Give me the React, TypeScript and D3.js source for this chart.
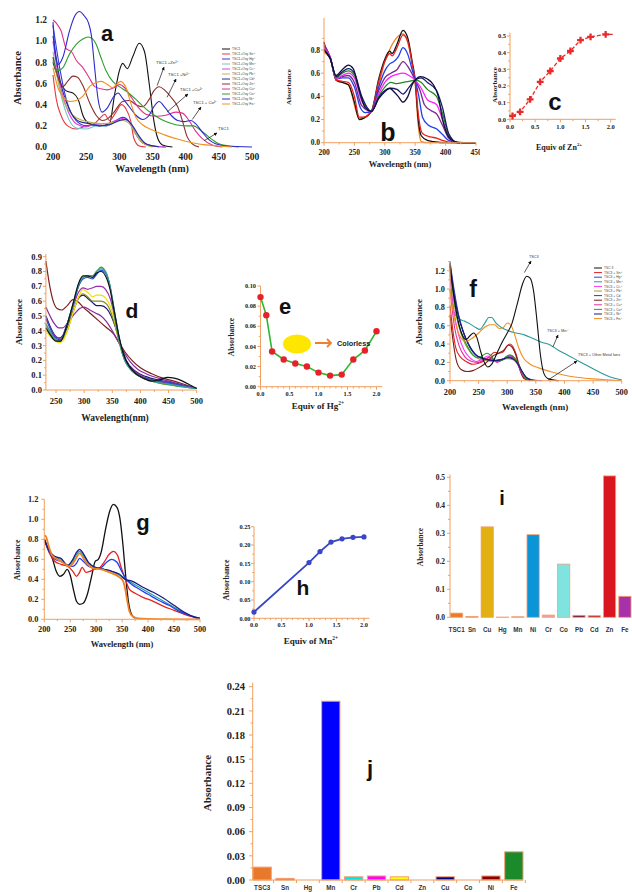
import React from "react";
import * as d3 from "d3";

type Pt = [number, number];

const serif = "'Liberation Serif', 'Times New Roman', serif";
const sans = "'Liberation Sans', Arial, sans-serif";
const AXC = "#f0a060";

// ---------- panel a : TSC1 + metal ions ----------
const aTSC1: Pt[] = [[200, 0.8], [210, 0.62], [220, 0.53], [230, 0.51], [238, 0.45], [245, 0.3], [255, 0.22], [270, 0.2], [285, 0.22], [293, 0.5], [300, 0.72], [305, 0.79], [312, 0.74], [320, 0.85], [330, 0.98], [338, 0.9], [345, 0.6], [352, 0.25], [358, 0.08], [365, 0.02], [380, 0]];
const aSn: Pt[] = [[200, 0.68], [205, 0.45], [212, 0.3], [222, 0.2], [235, 0.17], [250, 0.2], [262, 0.22], [272, 0.28], [278, 0.31], [285, 0.25], [295, 0.33], [303, 0.4], [310, 0.36], [317, 0.25], [322, 0.08], [330, 0.01], [340, 0]];
const aHg: Pt[] = [[200, 1.15], [210, 0.75], [220, 0.45], [235, 0.25], [250, 0.2], [265, 0.21], [280, 0.2], [295, 0.25], [305, 0.28], [315, 0.24], [325, 0.12], [335, 0.04], [350, 0.01], [370, 0]];
const aMn: Pt[] = [[200, 0.9], [210, 0.55], [220, 0.32], [235, 0.18], [250, 0.17], [265, 0.2], [280, 0.2], [295, 0.24], [305, 0.26], [315, 0.24], [325, 0.14], [335, 0.05], [350, 0.01], [370, 0]];
const aCr: Pt[] = [[200, 1.0], [210, 0.6], [220, 0.38], [235, 0.22], [250, 0.19], [265, 0.22], [280, 0.22], [295, 0.25], [305, 0.27], [315, 0.24], [325, 0.12], [335, 0.04], [350, 0.01], [370, 0]];
const aPb: Pt[] = [[200, 0.85], [215, 0.45], [230, 0.3], [245, 0.25], [260, 0.23], [275, 0.22], [290, 0.23], [305, 0.25], [315, 0.22], [325, 0.12], [335, 0.04], [350, 0]];
const aCd: Pt[] = [[200, 1.05], [210, 0.65], [225, 0.35], [240, 0.24], [255, 0.22], [270, 0.2], [285, 0.21], [300, 0.25], [310, 0.26], [320, 0.2], [330, 0.1], [340, 0.03], [360, 0]];
const aZn: Pt[] = [[200, 0.85], [208, 0.65], [215, 0.57], [222, 0.62], [230, 0.67], [237, 0.66], [245, 0.58], [255, 0.42], [265, 0.3], [275, 0.25], [283, 0.27], [292, 0.33], [305, 0.43], [315, 0.44], [325, 0.4], [335, 0.38], [345, 0.45], [352, 0.53], [360, 0.57], [368, 0.54], [378, 0.47], [388, 0.38], [395, 0.25], [402, 0.1], [410, 0.03], [420, 0]];
const aCu: Pt[] = [[200, 1.2], [205, 1.17], [212, 1.1], [220, 0.93], [228, 0.9], [235, 0.82], [245, 0.75], [255, 0.65], [263, 0.57], [272, 0.55], [282, 0.54], [292, 0.56], [300, 0.59], [308, 0.56], [318, 0.47], [328, 0.38], [340, 0.31], [355, 0.29], [370, 0.3], [385, 0.33], [395, 0.32], [405, 0.25], [415, 0.15], [425, 0.08], [440, 0.02], [455, 0]];
const aCo: Pt[] = [[200, 0.82], [207, 0.72], [215, 0.75], [225, 0.88], [235, 0.97], [245, 1.02], [253, 1.04], [260, 1.02], [265, 0.97], [272, 0.85], [280, 0.72], [290, 0.62], [300, 0.57], [312, 0.52], [325, 0.45], [340, 0.36], [355, 0.29], [370, 0.24], [385, 0.21], [400, 0.2], [412, 0.2], [420, 0.17], [430, 0.12], [440, 0.07], [450, 0.03], [465, 0.01], [480, 0]];
const aNi: Pt[] = [[200, 1.18], [204, 0.85], [208, 0.78], [215, 0.85], [225, 1.1], [233, 1.24], [240, 1.28], [247, 1.24], [253, 1.18], [258, 1.05], [262, 0.8], [268, 0.45], [274, 0.33], [282, 0.37], [292, 0.48], [298, 0.51], [305, 0.46], [315, 0.38], [325, 0.3], [335, 0.26], [345, 0.3], [352, 0.38], [360, 0.43], [368, 0.38], [378, 0.3], [388, 0.25], [398, 0.24], [408, 0.25], [415, 0.22], [425, 0.14], [435, 0.07], [445, 0.03], [460, 0.01], [500, 0]];
const aFe: Pt[] = [[200, 0.75], [208, 0.55], [215, 0.48], [225, 0.43], [235, 0.44], [245, 0.48], [255, 0.57], [265, 0.61], [273, 0.62], [282, 0.59], [290, 0.56], [297, 0.6], [302, 0.62], [310, 0.56], [318, 0.4], [325, 0.28], [335, 0.21], [350, 0.16], [370, 0.11], [390, 0.07], [410, 0.04], [430, 0.02], [450, 0.01], [470, 0]];
const aNames = ["TSC1", "TSC1+Oxy Sn²⁺", "TSC1+Oxy Hg²⁺", "TSC1+Oxy Mn²⁺", "TSC1+Oxy Cr³⁺", "TSC1+Oxy Pb²⁺", "TSC1+Oxy Cd²⁺", "TSC1+Oxy Zn²⁺", "TSC1+Oxy Cu²⁺", "TSC1+Oxy Co²⁺", "TSC1+Oxy Ni²⁺", "TSC1+Oxy Fe³⁺"];
const aColors = ["#111111", "#e83a3a", "#3838e0", "#70c4c4", "#e040e0", "#b8b850", "#2a2a9a", "#8b2e2e", "#e0308f", "#2f9e2f", "#2b2bd0", "#f0901a"];
const aData = [aTSC1, aSn, aHg, aMn, aCr, aPb, aCd, aZn, aCu, aCo, aNi, aFe];
const aNotes = ["TSC1 +Zn²⁺", "TSC1 +Ni²⁺", "TSC1 +Cu²⁺", "TSC1 + Co²⁺", "TSC1"];
const aNoteNm: Pt[] = [[357, 0.58], [372, 0.47], [372, 0.33], [410, 0.26], [428, 0.06]];

// ---------- panel b : Zn titration ----------
const bBlack: Pt[] = [[200, 0.87], [205, 0.77], [210, 0.74], [220, 0.54], [230, 0.52], [240, 0.5], [250, 0.35], [258, 0.2], [265, 0.21], [278, 0.27], [290, 0.55], [300, 0.72], [308, 0.79], [312, 0.77], [320, 0.85], [330, 0.97], [338, 0.9], [345, 0.7], [350, 0.54], [355, 0.2], [360, 0.06], [370, 0.02], [380, 0.01], [400, 0], [450, 0]];
const bRed: Pt[] = [[200, 0.85], [210, 0.74], [220, 0.54], [230, 0.53], [240, 0.52], [250, 0.4], [258, 0.22], [265, 0.22], [278, 0.27], [290, 0.53], [300, 0.7], [308, 0.77], [312, 0.75], [320, 0.82], [330, 0.93], [338, 0.87], [345, 0.68], [350, 0.54], [355, 0.25], [362, 0.08], [375, 0.05], [385, 0.04], [395, 0.02], [410, 0], [450, 0]];
const bBlue: Pt[] = [[200, 0.84], [210, 0.74], [220, 0.55], [230, 0.56], [240, 0.56], [250, 0.48], [260, 0.3], [268, 0.26], [278, 0.27], [290, 0.48], [300, 0.62], [308, 0.68], [315, 0.7], [322, 0.74], [330, 0.82], [338, 0.76], [345, 0.63], [350, 0.54], [356, 0.4], [362, 0.22], [372, 0.15], [385, 0.12], [395, 0.07], [405, 0.02], [420, 0], [450, 0]];
const bPurple: Pt[] = [[200, 0.83], [210, 0.74], [220, 0.55], [230, 0.57], [240, 0.58], [250, 0.52], [262, 0.32], [278, 0.27], [290, 0.45], [300, 0.56], [310, 0.6], [320, 0.63], [330, 0.7], [340, 0.64], [350, 0.54], [358, 0.45], [365, 0.33], [375, 0.28], [385, 0.25], [395, 0.15], [405, 0.04], [420, 0], [450, 0]];
const bMagenta: Pt[] = [[200, 0.82], [210, 0.74], [220, 0.55], [230, 0.58], [240, 0.6], [250, 0.56], [262, 0.36], [278, 0.27], [290, 0.42], [300, 0.52], [310, 0.57], [320, 0.59], [330, 0.6], [340, 0.58], [350, 0.54], [360, 0.47], [370, 0.37], [385, 0.33], [395, 0.2], [405, 0.06], [420, 0], [450, 0]];
const bGreen: Pt[] = [[200, 0.81], [210, 0.73], [220, 0.56], [230, 0.6], [240, 0.62], [250, 0.58], [262, 0.38], [278, 0.27], [290, 0.4], [300, 0.48], [310, 0.52], [320, 0.51], [330, 0.52], [340, 0.53], [350, 0.54], [360, 0.52], [370, 0.46], [385, 0.4], [395, 0.25], [405, 0.07], [420, 0], [450, 0]];
const bNavy: Pt[] = [[200, 0.8], [210, 0.73], [220, 0.57], [230, 0.61], [240, 0.64], [250, 0.6], [262, 0.4], [278, 0.27], [290, 0.39], [300, 0.45], [310, 0.47], [320, 0.46], [330, 0.42], [340, 0.48], [350, 0.54], [360, 0.56], [370, 0.52], [385, 0.45], [395, 0.3], [405, 0.08], [420, 0], [450, 0]];
const bFinal: Pt[] = [[200, 0.8], [210, 0.73], [220, 0.58], [230, 0.63], [240, 0.67], [248, 0.64], [258, 0.45], [268, 0.3], [278, 0.27], [290, 0.38], [300, 0.44], [308, 0.47], [315, 0.44], [322, 0.4], [330, 0.35], [338, 0.4], [345, 0.5], [350, 0.54], [358, 0.57], [370, 0.55], [380, 0.5], [388, 0.4], [395, 0.2], [405, 0.05], [415, 0.01], [430, 0], [450, 0]];
const bOrange: Pt[] = [[200, 0.78], [210, 0.73], [220, 0.54], [240, 0.5], [258, 0.21], [278, 0.27], [300, 0.7], [330, 0.94], [345, 0.68], [350, 0.5], [355, 0.15], [360, 0.01], [370, 0], [450, 0]];
const bColors = ["#f08020", "#111111", "#e82020", "#2040f0", "#7a2a8e", "#ff20ff", "#208a20", "#1a1a70", "#101040"];
const bData = [bOrange, bBlack, bRed, bBlue, bPurple, bMagenta, bGreen, bNavy, bFinal];

// ---------- panel c : Zn equivalents ----------
const cEquiv = [0.05, 0.2, 0.4, 0.6, 0.8, 1.0, 1.2, 1.4, 1.6, 1.9];
const cAbs = [0.02, 0.045, 0.12, 0.225, 0.29, 0.365, 0.41, 0.475, 0.495, 0.51];
const cTail: Pt = [2.05, 0.51];

// ---------- panel d : Hg titration ----------
const dBrown: Pt[] = [[232, 0.87], [238, 0.72], [245, 0.6], [252, 0.55], [260, 0.54], [270, 0.57], [280, 0.61], [288, 0.6], [298, 0.56], [310, 0.52], [325, 0.47], [340, 0.42], [352, 0.38], [362, 0.32], [372, 0.26], [385, 0.2], [400, 0.15], [420, 0.11], [440, 0.08], [460, 0.06], [480, 0.035], [500, 0.01]];
const dBlack: Pt[] = [[232, 0.42], [240, 0.37], [250, 0.33], [258, 0.33], [268, 0.42], [280, 0.58], [290, 0.72], [298, 0.77], [306, 0.77], [315, 0.76], [322, 0.79], [330, 0.8], [338, 0.77], [346, 0.68], [354, 0.52], [362, 0.36], [370, 0.24], [380, 0.16], [392, 0.11], [405, 0.08], [420, 0.06], [435, 0.07], [448, 0.085], [460, 0.08], [475, 0.06], [490, 0.03], [500, 0.01]];
const dTeal: Pt[] = [[232, 0.45], [240, 0.39], [250, 0.34], [258, 0.33], [268, 0.42], [280, 0.58], [290, 0.71], [298, 0.76], [306, 0.77], [315, 0.77], [322, 0.8], [330, 0.82], [338, 0.8], [346, 0.7], [354, 0.52], [362, 0.35], [370, 0.22], [382, 0.14], [395, 0.1], [420, 0.06], [450, 0.04], [480, 0.02], [500, 0.01]];
const dBlue: Pt[] = [[232, 0.5], [240, 0.41], [250, 0.35], [258, 0.34], [268, 0.43], [280, 0.57], [290, 0.7], [298, 0.75], [306, 0.76], [315, 0.75], [322, 0.78], [330, 0.81], [338, 0.79], [346, 0.7], [354, 0.53], [362, 0.36], [370, 0.23], [382, 0.15], [395, 0.1], [420, 0.07], [450, 0.05], [480, 0.025], [500, 0.01]];
const dGreen: Pt[] = [[232, 0.44], [250, 0.34], [258, 0.33], [268, 0.42], [280, 0.57], [290, 0.7], [298, 0.76], [306, 0.77], [315, 0.77], [322, 0.8], [330, 0.83], [338, 0.8], [346, 0.7], [354, 0.5], [362, 0.33], [372, 0.2], [385, 0.13], [400, 0.09], [430, 0.05], [460, 0.03], [500, 0.01]];
const dMagenta: Pt[] = [[232, 0.48], [250, 0.36], [258, 0.35], [268, 0.42], [280, 0.56], [290, 0.66], [298, 0.69], [306, 0.68], [315, 0.69], [322, 0.7], [330, 0.7], [338, 0.68], [346, 0.62], [354, 0.5], [362, 0.34], [372, 0.21], [385, 0.14], [400, 0.1], [430, 0.06], [460, 0.04], [500, 0.01]];
const dYellow: Pt[] = [[232, 0.4], [245, 0.34], [255, 0.32], [262, 0.33], [270, 0.4], [280, 0.52], [290, 0.63], [298, 0.68], [306, 0.66], [315, 0.63], [322, 0.64], [330, 0.64], [338, 0.62], [346, 0.57], [354, 0.47], [362, 0.33], [372, 0.2], [385, 0.13], [400, 0.09], [430, 0.05], [460, 0.03], [500, 0.01]];
const dOlive: Pt[] = [[232, 0.42], [255, 0.33], [270, 0.4], [280, 0.52], [290, 0.62], [298, 0.65], [306, 0.63], [315, 0.6], [322, 0.6], [330, 0.6], [340, 0.58], [348, 0.52], [356, 0.42], [364, 0.3], [375, 0.18], [390, 0.12], [410, 0.08], [440, 0.05], [470, 0.03], [500, 0.01]];
const dNavy: Pt[] = [[232, 0.5], [255, 0.35], [270, 0.42], [280, 0.53], [290, 0.62], [298, 0.64], [306, 0.62], [315, 0.59], [322, 0.57], [330, 0.57], [340, 0.55], [348, 0.5], [356, 0.42], [364, 0.32], [375, 0.2], [390, 0.13], [410, 0.09], [440, 0.06], [470, 0.035], [500, 0.01]];
const dPurple: Pt[] = [[232, 0.56], [245, 0.46], [255, 0.42], [262, 0.42], [272, 0.46], [282, 0.51], [292, 0.55], [300, 0.56], [310, 0.54], [320, 0.52], [330, 0.5], [340, 0.46], [350, 0.4], [360, 0.33], [370, 0.26], [382, 0.19], [395, 0.14], [410, 0.11], [440, 0.07], [470, 0.04], [500, 0.01]];
const dColors = ["#7a1f1f", "#8a2aa0", "#1a1a70", "#8a8a20", "#f0e000", "#9a2ab0", "#3a9a3a", "#3050d0", "#3aa0a0", "#111111"];
const dData = [dBrown, dPurple, dNavy, dOlive, dYellow, dMagenta, dGreen, dBlue, dTeal, dBlack];

// ---------- panel e : Hg equivalents ----------
const eEquiv = [0.0, 0.1, 0.2, 0.4, 0.6, 0.8, 1.0, 1.2, 1.4, 1.6, 1.8, 2.0];
const eAbs = [0.089, 0.071, 0.035, 0.027, 0.023, 0.02, 0.014, 0.011, 0.012, 0.027, 0.036, 0.055];

// ---------- panel f : TSC3 + metal ions ----------
const fTSC3: Pt[] = [[200, 1.25], [205, 1.0], [212, 0.72], [220, 0.52], [228, 0.45], [235, 0.49], [241, 0.52], [247, 0.47], [253, 0.33], [260, 0.2], [266, 0.15], [273, 0.18], [282, 0.3], [292, 0.43], [300, 0.52], [308, 0.62], [318, 0.85], [327, 1.06], [334, 1.14], [340, 1.12], [346, 0.98], [352, 0.65], [358, 0.28], [364, 0.08], [372, 0.02], [390, 0]];
const fSn: Pt[] = [[200, 0.82], [205, 0.55], [210, 0.36], [218, 0.26], [228, 0.21], [240, 0.18], [250, 0.19], [260, 0.22], [270, 0.27], [278, 0.31], [284, 0.3], [292, 0.31], [300, 0.38], [305, 0.4], [310, 0.37], [316, 0.28], [322, 0.14], [330, 0.03], [340, 0]];
const fHg: Pt[] = [[200, 1.28], [206, 1.0], [213, 0.76], [222, 0.55], [232, 0.4], [242, 0.3], [252, 0.25], [262, 0.23], [275, 0.22], [288, 0.23], [300, 0.25], [308, 0.25], [316, 0.21], [324, 0.12], [332, 0.04], [342, 0.01], [360, 0]];
const fMn: Pt[] = [[200, 1.25], [203, 0.95], [207, 0.75], [215, 0.68], [225, 0.65], [235, 0.62], [245, 0.58], [252, 0.56], [260, 0.62], [268, 0.69], [273, 0.69], [280, 0.63], [290, 0.58], [300, 0.55], [315, 0.52], [330, 0.5], [345, 0.46], [360, 0.42], [375, 0.39], [390, 0.33], [405, 0.28], [420, 0.23], [435, 0.18], [450, 0.13], [465, 0.08], [480, 0.04], [495, 0.015], [500, 0.01]];
const fCr: Pt[] = [[200, 1.15], [207, 0.75], [215, 0.5], [225, 0.33], [235, 0.25], [247, 0.21], [258, 0.24], [266, 0.27], [275, 0.23], [285, 0.21], [297, 0.25], [305, 0.27], [313, 0.24], [320, 0.16], [328, 0.06], [340, 0]];
const fPb: Pt[] = [[200, 1.2], [207, 0.85], [215, 0.6], [225, 0.42], [237, 0.3], [250, 0.24], [262, 0.22], [275, 0.21], [288, 0.22], [300, 0.24], [310, 0.23], [318, 0.18], [326, 0.09], [335, 0.02], [350, 0]];
const fCd: Pt[] = [[200, 1.3], [207, 1.0], [215, 0.72], [225, 0.5], [235, 0.36], [245, 0.28], [255, 0.25], [268, 0.23], [280, 0.22], [292, 0.23], [302, 0.26], [310, 0.25], [318, 0.2], [326, 0.1], [335, 0.03], [350, 0]];
const fZn: Pt[] = [[200, 0.72], [205, 0.45], [212, 0.2], [220, 0.12], [230, 0.1], [240, 0.11], [250, 0.14], [262, 0.19], [275, 0.27], [285, 0.3], [295, 0.34], [302, 0.39], [308, 0.37], [315, 0.28], [322, 0.12], [330, 0.02], [340, 0]];
const fCu: Pt[] = [[200, 1.0], [208, 0.58], [216, 0.38], [226, 0.26], [238, 0.21], [250, 0.2], [262, 0.24], [272, 0.25], [282, 0.2], [294, 0.24], [304, 0.28], [312, 0.25], [320, 0.16], [328, 0.05], [340, 0]];
const fCo: Pt[] = [[200, 1.28], [206, 0.95], [212, 0.7], [220, 0.52], [230, 0.38], [240, 0.28], [250, 0.25], [258, 0.28], [265, 0.3], [272, 0.27], [280, 0.21], [290, 0.22], [300, 0.27], [306, 0.28], [313, 0.25], [320, 0.18], [328, 0.07], [338, 0.01], [350, 0]];
const fNi: Pt[] = [[200, 1.27], [206, 0.98], [214, 0.72], [224, 0.52], [234, 0.38], [244, 0.29], [254, 0.25], [266, 0.23], [278, 0.22], [290, 0.23], [301, 0.25], [309, 0.24], [317, 0.2], [325, 0.11], [334, 0.03], [345, 0]];
const fFe: Pt[] = [[200, 1.0], [205, 0.78], [212, 0.57], [220, 0.46], [228, 0.43], [238, 0.46], [250, 0.52], [260, 0.58], [270, 0.61], [278, 0.61], [286, 0.57], [293, 0.58], [300, 0.63], [307, 0.6], [313, 0.5], [320, 0.36], [328, 0.25], [340, 0.18], [355, 0.14], [375, 0.1], [400, 0.06], [425, 0.035], [450, 0.02], [475, 0.01], [500, 0]];
const fNames = ["TSC 3", "TSC3 + Sn²⁺", "TSC3 + Hg²⁺", "TSC3 + Mn²⁺", "TSC3 + Cr³⁺", "TSC3 + Pb²⁺", "TSC3 + Cd", "TSC3 + Zn²⁺", "TSC3 + Cu²⁺", "TSC3 + Co²⁺", "TSC3 + Ni²⁺", "TSC3 + Fe³⁺"];
const fColors = ["#111111", "#e02020", "#3040e0", "#2a9a9a", "#ff30ff", "#a0a030", "#3a3ab0", "#7a1a1a", "#e0309a", "#20a020", "#1a1a80", "#f09020"];
const fData = [fTSC3, fSn, fHg, fMn, fCr, fPb, fCd, fZn, fCu, fCo, fNi, fFe];
const fNotes = ["TSC3", "TSC3 + Mn²⁺", "TSC3 + Other Metal Ions"];

// ---------- panel g : Mn titration ----------
const gBlack: Pt[] = [[200, 0.8], [208, 0.7], [216, 0.6], [223, 0.48], [230, 0.43], [237, 0.45], [244, 0.5], [250, 0.44], [256, 0.3], [262, 0.18], [268, 0.15], [275, 0.16], [283, 0.25], [292, 0.45], [298, 0.58], [304, 0.6], [310, 0.68], [318, 0.9], [326, 1.08], [333, 1.15], [340, 1.12], [346, 1.0], [352, 0.72], [357, 0.42], [362, 0.18], [368, 0.05], [375, 0.01]];
const gRed: Pt[] = [[200, 0.8], [210, 0.66], [220, 0.58], [232, 0.55], [245, 0.53], [255, 0.48], [262, 0.43], [268, 0.47], [273, 0.52], [280, 0.47], [288, 0.48], [296, 0.5], [305, 0.51], [315, 0.57], [325, 0.65], [333, 0.68], [341, 0.64], [348, 0.52], [356, 0.4], [364, 0.3], [375, 0.26], [390, 0.22], [410, 0.18], [430, 0.13], [450, 0.09], [470, 0.05], [490, 0.02], [500, 0.01]];
const gBlue: Pt[] = [[200, 0.8], [210, 0.67], [220, 0.6], [232, 0.58], [245, 0.54], [255, 0.53], [262, 0.56], [268, 0.61], [275, 0.58], [285, 0.53], [298, 0.51], [310, 0.52], [320, 0.57], [330, 0.6], [340, 0.57], [350, 0.47], [358, 0.4], [368, 0.35], [380, 0.31], [400, 0.25], [420, 0.19], [440, 0.14], [460, 0.08], [480, 0.04], [500, 0.01]];
const gTeal: Pt[] = [[200, 0.8], [210, 0.67], [220, 0.62], [232, 0.6], [245, 0.54], [255, 0.58], [262, 0.65], [268, 0.68], [276, 0.63], [285, 0.56], [298, 0.52], [315, 0.5], [330, 0.48], [345, 0.44], [356, 0.4], [370, 0.36], [390, 0.3], [410, 0.24], [430, 0.18], [450, 0.12], [470, 0.06], [490, 0.02], [500, 0.01]];
const gNavy: Pt[] = [[200, 0.8], [210, 0.68], [220, 0.63], [232, 0.61], [245, 0.54], [255, 0.6], [262, 0.67], [268, 0.7], [276, 0.65], [285, 0.57], [298, 0.52], [315, 0.5], [330, 0.48], [345, 0.45], [356, 0.4], [370, 0.38], [390, 0.32], [410, 0.27], [430, 0.21], [450, 0.14], [470, 0.07], [490, 0.02], [500, 0.01]];
const gOrange: Pt[] = [[200, 0.84], [203, 0.83], [208, 0.74], [215, 0.64], [225, 0.6], [235, 0.57], [248, 0.53], [258, 0.58], [268, 0.66], [280, 0.57], [295, 0.51], [310, 0.5], [330, 0.46], [345, 0.42], [352, 0.38], [356, 0.3], [360, 0.18], [364, 0.08], [370, 0.03], [380, 0.01], [400, 0.005], [500, 0]];
const gColors = ["#111111", "#2aa0a0", "#e82020", "#2040f0", "#1a1a80", "#f08020"];
const gData = [gBlack, gTeal, gRed, gBlue, gNavy, gOrange];

// ---------- panel h : Mn equivalents ----------
const hEquiv = [0.0, 1.0, 1.2, 1.4, 1.6, 1.8, 2.0];
const hAbs = [0.017, 0.152, 0.182, 0.208, 0.217, 0.221, 0.222];

// ---------- panel i : TSC1 selectivity ----------
const iIons = ["TSC1", "Sn", "Cu", "Hg", "Mn", "Ni", "Cr", "Co", "Pb", "Cd", "Zn", "Fe"];
const iAbs = [0.015, 0.003, 0.323, 0.001, 0.002, 0.295, 0.008, 0.19, 0.007, 0.006, 0.505, 0.075];
const iColors = ["#ea7a2a", "#e05a2a", "#e2b012", "#e05a2a", "#e05a2a", "#0a95d9", "#f0a0a0", "#7fe3e0", "#7a1f3a", "#c0392b", "#d9161f", "#a830a8"];

// ---------- panel j : TSC3 selectivity ----------
const jIons = ["TSC3", "Sn", "Hg", "Mn", "Cr", "Pb", "Cd", "Zn", "Cu", "Co", "Ni", "Fe"];
const jAbs = [0.016, 0.002, 0, 0.222, 0.004, 0.005, 0.004, 0, 0.004, 0, 0.005, 0.035];
const jColors = ["#e8782a", "#e05020", "#cccccc", "#0000ff", "#00e5e5", "#ff00ff", "#ffff00", "#cccccc", "#000080", "#cccccc", "#8b0000", "#1a8a2a"];

// tick values
const ticks12 = [0, 0.2, 0.4, 0.6, 0.8, 1.0, 1.2];
const nm200to500 = [200, 250, 300, 350, 400, 450, 500];
const bYTicks = [0, 0.2, 0.4, 0.6, 0.8];
const bXTicks = [200, 250, 300, 350, 400, 450];
const cYTicks = [0, 0.1, 0.2, 0.3, 0.4, 0.5];
const equivTicks = [0, 0.5, 1.0, 1.5, 2.0];
const dYTicks = [0, 0.1, 0.2, 0.3, 0.4, 0.5, 0.6, 0.7, 0.8, 0.9];
const dXTicks = [250, 300, 350, 400, 450, 500];
const eYTicks = [0, 0.02, 0.04, 0.06, 0.08, 0.1];
const hYTicks = [0, 0.05, 0.1, 0.15, 0.2, 0.25];
const iYTicks = [0, 0.1, 0.2, 0.3, 0.4, 0.5];
const jYTicks = [0, 0.03, 0.06, 0.09, 0.12, 0.15, 0.18, 0.21, 0.24];

const f1 = d3.format(".1f");
const f2 = d3.format(".2f");
const f0 = d3.format("d");

function Curves({ x, y, data, colors, w = 1.1 }: any) {
  const line = d3.line<Pt>().x((d) => x(d[0])).y((d) => y(d[1])).curve(d3.curveMonotoneX);
  return (
    <g fill="none" strokeLinejoin="round">
      {data.map((s: Pt[], i: number) => (
        <path key={i} d={line(s) || ""} stroke={colors[i]} strokeWidth={w} />
      ))}
    </g>
  );
}

function Axes({ x, y, xTicks, yTicks, xFmt, yFmt, fs, color, xDy, yDx, xEnd, yTop, minorX = [], minorY = [] }: any) {
  const x0 = x.range()[0];
  const y0 = y.range()[0];
  const xe = xEnd ?? x.range()[1];
  const yt = yTop ?? y.range()[1];
  return (
    <g fontFamily={serif} fontWeight="bold" fontSize={fs} fill="#222">
      {color && (
        <g stroke={color} strokeWidth={1}>
          <line x1={x0} x2={x0} y1={y0} y2={yt} />
          <line x1={x0} x2={xe} y1={y0} y2={y0} />
          {xTicks.map((t: number) => <line key={"xt" + t} x1={x(t)} x2={x(t)} y1={y0} y2={y0 + 3} />)}
          {minorX.map((t: number) => <line key={"xm" + t} x1={x(t)} x2={x(t)} y1={y0} y2={y0 + 1.8} />)}
          {yTicks.map((t: number) => <line key={"yt" + t} x1={x0 - 3} x2={x0} y1={y(t)} y2={y(t)} />)}
          {minorY.map((t: number) => <line key={"ym" + t} x1={x0 - 1.8} x2={x0} y1={y(t)} y2={y(t)} />)}
        </g>
      )}
      {xTicks.map((t: number) => (
        <text key={"xl" + t} x={x(t)} y={y0 + xDy} textAnchor="middle">{xFmt(t)}</text>
      ))}
      {yTicks.map((t: number) => (
        <text key={"yl" + t} x={x0 - yDx} y={y(t)} dy="0.35em" textAnchor="end">{yFmt(t)}</text>
      ))}
    </g>
  );
}

function Label({ x, y, fs, children, rot = false, anchor = "middle", family = serif, weight = "bold", fill = "#222" }: any) {
  return (
    <text x={x} y={y} fontSize={fs} fontFamily={family} fontWeight={weight} fill={fill} textAnchor={anchor}
      transform={rot ? `rotate(-90 ${x} ${y})` : undefined}>
      {children}
    </text>
  );
}

function Letter({ x, y, fs, t }: any) {
  return <text x={x} y={y} fontSize={fs} fontFamily={sans} fontWeight="bold" fill="#111" textAnchor="middle">{t}</text>;
}

function Sup({ base, sup, fs }: any) {
  return (<>{base}<tspan dy={-fs * 0.45} fontSize={fs * 0.6}>{sup}</tspan></>);
}

function Legend({ x, y, names, colors, step, fs }: any) {
  return (
    <g fontFamily={sans} fontSize={fs} fill="#444">
      {names.map((n: string, i: number) => (
        <g key={n} transform={`translate(${x},${y + i * step})`}>
          <line x1={0} x2={8} y1={0} y2={0} stroke={colors[i]} strokeWidth={1} />
          <text x={10} y={0} dy="0.35em">{n}</text>
        </g>
      ))}
    </g>
  );
}

function range(a: number, b: number, s: number) {
  return d3.range(a, b + s / 2, s).map((v) => +v.toFixed(4));
}

function App() {
  // a
  const ax = d3.scaleLinear().domain([200, 500]).range([53, 252]);
  const ay = d3.scaleLinear().domain([0, 1.2]).range([147, 20]);
  // b
  const bx = d3.scaleLinear().domain([200, 450]).range([324, 476]);
  const by = d3.scaleLinear().domain([0, 0.8]).range([142.7, 50]);
  // c
  const cx = d3.scaleLinear().domain([0, 2]).range([510, 610.7]);
  const cy = d3.scaleLinear().domain([0, 0.5]).range([119.3, 36]);
  // d
  const dx = d3.scaleLinear().domain([232, 500]).range([45.9, 196.7]);
  const dy = d3.scaleLinear().domain([0, 0.9]).range([390, 256.7]);
  // e
  const ex = d3.scaleLinear().domain([0, 2]).range([260.5, 376.5]);
  const ey = d3.scaleLinear().domain([0, 0.1]).range([386.7, 286]);
  // f
  const fx = d3.scaleLinear().domain([200, 500]).range([450, 621.7]);
  const fy = d3.scaleLinear().domain([0, 1.2]).range([380.7, 270.7]);
  // g
  const gx = d3.scaleLinear().domain([200, 500]).range([44.3, 200]);
  const gy = d3.scaleLinear().domain([0, 1.2]).range([619.3, 499.3]);
  // h
  const hx = d3.scaleLinear().domain([0, 2]).range([254, 364]);
  const hy = d3.scaleLinear().domain([0, 0.25]).range([618.3, 526.7]);
  // i
  const ix = d3.scaleBand().domain(iIons).range([450.5, 631]).paddingInner(0.2).paddingOuter(0);
  const iy = d3.scaleLinear().domain([0, 0.5]).range([617.3, 477.3]);
  // j
  const jx = d3.scaleBand().domain(jIons).range([253, 523]).paddingInner(0.2).paddingOuter(0);
  const jy = d3.scaleLinear().domain([0, 0.24]).range([880, 686.7]);

  const cPts: Pt[] = cEquiv.map((v, i) => [v, cAbs[i]]);
  const ePts: Pt[] = eEquiv.map((v, i) => [v, eAbs[i]]);
  const hPts: Pt[] = hEquiv.map((v, i) => [v, hAbs[i]]);
  const lin = (x: any, y: any) => d3.line<Pt>().x((d) => x(d[0])).y((d) => y(d[1]));
  const cross = d3.symbol().type(d3.symbolCross).size(26)();

  return (
    <svg width={632} height={892} style={{ position: "absolute", left: 0, top: 0, background: "#fff" }}>
      <defs>
        <marker id="arr" viewBox="0 0 10 10" refX="9" refY="5" markerWidth="5" markerHeight="5" orient="auto">
          <path d="M0,0 L10,5 L0,10 z" fill="#111" />
        </marker>
        <clipPath id="bclip"><rect x={280} y={0} width={200} height={180} /></clipPath>
      </defs>

      {/* ---------------- a ---------------- */}
      <Curves x={ax} y={ay} data={aData} colors={aColors} w={1.1} />
      <Axes x={ax} y={ay} xTicks={nm200to500} yTicks={ticks12} xFmt={f0} yFmt={f1} fs={9.5} color={null} xDy={13} yDx={6} />
      <Label x={21} y={78} fs={10.5} rot>Absorbance</Label>
      <Label x={152} y={172} fs={10}>Wavelength (nm)</Label>
      <Letter x={107} y={41} fs={22} t="a" />
      <Legend x={222} y={49} names={aNames} colors={aColors} step={5} fs={3.3} />
      <g fontFamily={sans} fontSize={4.2} fill="#333">
        {aNotes.map((n, i) => {
          const pos: Pt[] = [[156, 64], [168, 76], [180, 91], [193, 104], [218, 130]];
          const [nx, ny] = aNoteNm[i];
          return (
            <g key={n}>
              <text x={pos[i][0]} y={pos[i][1]}>{n}</text>
              <line x1={ax(nx)} y1={ay(ny)} x2={pos[i][0] + (i === 4 ? -1 : 8)} y2={pos[i][1] + 3}
                stroke="#111" strokeWidth={0.7} markerEnd="url(#arr)" />
            </g>
          );
        })}
      </g>

      {/* ---------------- b ---------------- */}
      <g clipPath="url(#bclip)">
        <Curves x={bx} y={by} data={bData} colors={bColors} w={1.3} />
        <Axes x={bx} y={by} xTicks={bXTicks} yTicks={bYTicks} xFmt={f0} yFmt={f1} fs={7.5} color={AXC} xDy={12} yDx={4} yTop={18}
          minorX={range(225, 450, 50)} minorY={range(0.1, 0.9, 0.2)} />
      </g>
      <Label x={291} y={87} fs={7} rot>Absorbance</Label>
      <Label x={400} y={167} fs={8.5}>Wavelength (nm)</Label>
      <Letter x={388} y={141} fs={25} t="b" />

      {/* ---------------- c ---------------- */}
      <Axes x={cx} y={cy} xTicks={equivTicks} yTicks={cYTicks} xFmt={f1} yFmt={f1} fs={6.5} color={AXC} xDy={9.5} yDx={4}
        xEnd={cx(2.1)} yTop={cy(0.52)} minorX={range(0.25, 2.0, 0.5)} minorY={range(0.05, 0.5, 0.1)} />
      <path d={lin(cx, cy)([...cPts, cTail]) || ""} fill="none" stroke="#e82a2a" strokeWidth={1.3} strokeDasharray="4 2" />
      {cPts.map((p, i) => (
        <path key={i} d={cross} transform={`translate(${cx(p[0])},${cy(p[1])})`} fill="#e82a2a" />
      ))}
      <Label x={497} y={85} fs={7} rot>Absorbance</Label>
      <Label x={559} y={150} fs={8}><Sup base="Equiv of Zn" sup="2+" fs={8} /></Label>
      <Letter x={555} y={110} fs={24} t="c" />

      {/* ---------------- d ---------------- */}
      <Curves x={dx} y={dy} data={dData} colors={dColors} w={1.2} />
      <Axes x={dx} y={dy} xTicks={dXTicks} yTicks={dYTicks} xFmt={f0} yFmt={f1} fs={8.5} color={AXC} xDy={14} yDx={4}
        xEnd={dx(500)} yTop={dy(0.92)} minorX={range(275, 475, 50)} minorY={range(0.05, 0.85, 0.1)} />
      <Label x={22} y={322} fs={9} rot>Absorbance</Label>
      <Label x={115} y={421} fs={9.5}>Wavelength(nm)</Label>
      <Letter x={132} y={318} fs={21} t="d" />

      {/* ---------------- e ---------------- */}
      <Axes x={ex} y={ey} xTicks={equivTicks} yTicks={eYTicks} xFmt={f1} yFmt={f2} fs={6.3} color={AXC} xDy={9} yDx={4.5}
        xEnd={ex(2.1)} yTop={ey(0.1)} minorX={range(0.1, 2.0, 0.1)} minorY={range(0.01, 0.09, 0.02)} />
      <path d={lin(ex, ey)(ePts) || ""} fill="none" stroke="#2db82d" strokeWidth={1.6} />
      {ePts.map((p, i) => <circle key={i} cx={ex(p[0])} cy={ey(p[1])} r={3.2} fill="#e8202a" />)}
      <ellipse cx={297} cy={344} rx={14} ry={9.5} fill="#ffe600" />
      <path d="M315,343 L331,343 M327,339 L331,343 L327,347" fill="none" stroke="#f08030" strokeWidth={1.8} />
      <Label x={337} y={345.5} fs={7.3} anchor="start" family={sans}>Colorless</Label>
      <Label x={234} y={337} fs={7.5} rot>Absorbance</Label>
      <Label x={318} y={409} fs={9}><Sup base="Equiv of Hg" sup="2+" fs={9} /></Label>
      <Letter x={285} y={314} fs={22} t="e" />

      {/* ---------------- f ---------------- */}
      <Curves x={fx} y={fy} data={[...fData.slice(1), fData[0]]} colors={[...fColors.slice(1), fColors[0]]} w={1.1} />
      <Axes x={fx} y={fy} xTicks={nm200to500} yTicks={ticks12} xFmt={f0} yFmt={f1} fs={8.3} color={AXC} xDy={14} yDx={5}
        yTop={fy(1.3)} minorX={range(225, 475, 50)} minorY={range(0.1, 1.3, 0.2)} />
      <Label x={422} y={322} fs={9} rot>Absorbance</Label>
      <Label x={535} y={410} fs={9}>Wavelength (nm)</Label>
      <Letter x={473} y={297} fs={23} t="f" />
      <Legend x={594} y={268} names={fNames} colors={fColors} step={4.6} fs={3.3} />
      <g fontFamily={sans} fontSize={3.8} fill="#333">
        <text x={529} y={258}>{fNotes[0]}</text>
        <line x1={fx(330)} y1={fy(1.18)} x2={531} y2={261} stroke="#111" strokeWidth={0.7} markerEnd="url(#arr)" />
        <text x={547} y={332}>{fNotes[1]}</text>
        <line x1={fx(380)} y1={fy(0.37)} x2={558} y2={335} stroke="#111" strokeWidth={0.7} markerEnd="url(#arr)" />
        <text x={578} y={356}>{fNotes[2]}</text>
        <line x1={fx(372)} y1={fy(0.01)} x2={577} y2={361} stroke="#111" strokeWidth={0.7} markerEnd="url(#arr)" />
      </g>

      {/* ---------------- g ---------------- */}
      <Curves x={gx} y={gy} data={gData.slice(0, 5)} colors={gColors} w={1.3} />
      <Curves x={gx} y={gy} data={[gOrange]} colors={[gColors[5]]} w={1.8} />
      <Axes x={gx} y={gy} xTicks={nm200to500} yTicks={ticks12} xFmt={f0} yFmt={f1} fs={8.3} color={AXC} xDy={13} yDx={6}
        minorX={range(225, 475, 50)} minorY={range(0.1, 1.1, 0.2)} />
      <Label x={20} y={560} fs={8} rot>Absorbance</Label>
      <Label x={122} y={647} fs={8.5}>Wavelength (nm)</Label>
      <Letter x={143} y={530} fs={22} t="g" />

      {/* ---------------- h ---------------- */}
      <Axes x={hx} y={hy} xTicks={equivTicks} yTicks={hYTicks} xFmt={f1} yFmt={f2} fs={6.3} color={AXC} xDy={8.5} yDx={3.5}
        xEnd={hx(2.1)} minorX={range(0.1, 2.0, 0.1)} minorY={range(0.025, 0.225, 0.05)} />
      <path d={lin(hx, hy)(hPts) || ""} fill="none" stroke="#3a46c8" strokeWidth={1.8} />
      {hPts.map((p, i) => <circle key={i} cx={hx(p[0])} cy={hy(p[1])} r={2.6} fill="#3a46c8" />)}
      <Label x={229} y={580} fs={8} rot>Absorbance</Label>
      <Label x={311} y={644} fs={9}><Sup base="Equiv of Mn" sup="2+" fs={9} /></Label>
      <Letter x={303} y={595} fs={21} t="h" />

      {/* ---------------- i ---------------- */}
      {iIons.map((k, i) => (
        <rect key={k} x={ix(k)} y={iy(iAbs[i])} width={ix.bandwidth()} height={iy(0) - iy(iAbs[i])}
          fill={iColors[i]} stroke="#f4a070" strokeWidth={0.8} />
      ))}
      <g stroke={AXC} strokeWidth={1}>
        <line x1={450} x2={450} y1={iy(0)} y2={iy(0.51)} />
        {iYTicks.map((t) => <line key={t} x1={447} x2={450} y1={iy(t)} y2={iy(t)} />)}
        {range(0.05, 0.45, 0.1).map((t) => <line key={"m" + t} x1={448} x2={450} y1={iy(t)} y2={iy(t)} />)}
      </g>
      <g fontFamily={serif} fontWeight="bold" fontSize={7.5} fill="#222">
        {iYTicks.map((t) => <text key={t} x={445} y={iy(t)} dy="0.35em" textAnchor="end">{f1(t)}</text>)}
      </g>
      <g fontFamily={sans} fontWeight="bold" fontSize={6.3} fill="#333">
        {iIons.map((k) => <text key={k} x={(ix(k) ?? 0) + ix.bandwidth() / 2} y={632} textAnchor="middle">{k}</text>)}
      </g>
      <Label x={423} y={547} fs={7.5} rot>Absorbance</Label>
      <Letter x={502} y={505} fs={20} t="i" />

      {/* ---------------- j ---------------- */}
      {jIons.map((k, i) => jAbs[i] > 0 && (
        <rect key={k} x={jx(k)} y={jy(jAbs[i])} width={jx.bandwidth()} height={jy(0) - jy(jAbs[i])}
          fill={jColors[i]} stroke="#f4a070" strokeWidth={1} />
      ))}
      <g stroke={AXC} strokeWidth={1}>
        <line x1={252.7} x2={252.7} y1={jy(0)} y2={jy(0.245)} />
        <line x1={252.7} x2={523} y1={jy(0)} y2={jy(0)} />
        {jYTicks.map((t) => <line key={t} x1={249} x2={252.7} y1={jy(t)} y2={jy(t)} />)}
        {range(0.015, 0.225, 0.03).map((t) => <line key={"m" + t} x1={250.5} x2={252.7} y1={jy(t)} y2={jy(t)} />)}
        {jIons.map((k) => <line key={"x" + k} x1={(jx(k) ?? 0) + jx.bandwidth() + jx.step() * 0.1} x2={(jx(k) ?? 0) + jx.bandwidth() + jx.step() * 0.1} y1={jy(0)} y2={jy(0) + 3} />)}
      </g>
      <g fontFamily={serif} fontWeight="bold" fontSize={10.5} fill="#222">
        {jYTicks.map((t) => <text key={t} x={245} y={jy(t)} dy="0.35em" textAnchor="end">{f2(t)}</text>)}
      </g>
      <g fontFamily={sans} fontWeight="bold" fontSize={6.3} fill="#333">
        {jIons.map((k) => <text key={k} x={(jx(k) ?? 0) + jx.bandwidth() / 2} y={889.5} textAnchor="middle">{k}</text>)}
      </g>
      <Label x={211} y={783} fs={11} rot>Absorbance</Label>
      <Letter x={370} y={776} fs={22} t="j" />
    </svg>
  );
}

export default App;
